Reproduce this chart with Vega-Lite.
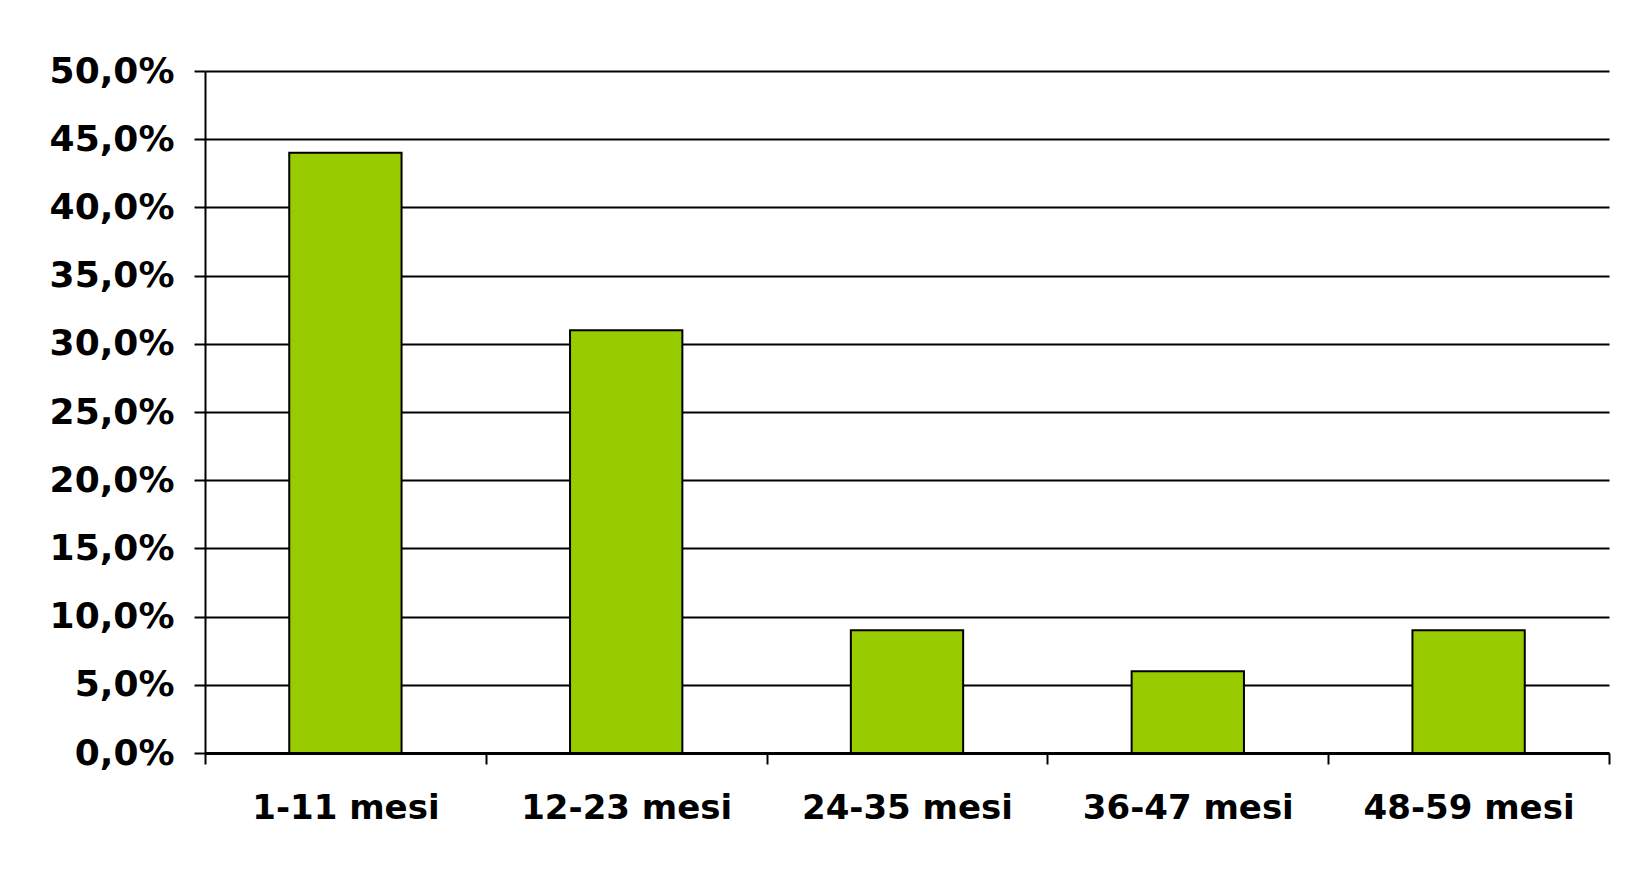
{
  "$schema": "https://vega.github.io/schema/vega-lite/v6.json",
  "autosize": {"type": "none"},
  "width": 1404,
  "height": 682,
  "padding": {"left": 205, "top": 71, "right": 37, "bottom": 118},
  "background": "white",
  "config": {
    "view": {"stroke": null},
    "font": "DejaVu Sans"
  },
  "data": {
    "values": [
      {"eta": "1-11 mesi", "pct": 44},
      {"eta": "12-23 mesi", "pct": 31},
      {"eta": "24-35 mesi", "pct": 9},
      {"eta": "36-47 mesi", "pct": 6},
      {"eta": "48-59 mesi", "pct": 9}
    ]
  },
  "mark": {"type": "bar", "width": {"band": 0.4}, "fill": "#99CC00", "stroke": "black", "strokeWidth": 2},
  "encoding": {
    "x": {
      "field": "eta", "type": "nominal", "sort": null,
      "scale": {"paddingInner": 0, "paddingOuter": 0},
      "axis": {
        "title": null, "labelAngle": 0, "tickBand": "extent",
        "domainColor": "black", "domainWidth": 3, "tickColor": "black", "tickWidth": 2, "tickSize": 11,
        "labelFont": "DejaVu Sans", "labelFontSize": 34, "labelFontWeight": "bold", "labelColor": "black",
        "labelPadding": 27, "labelLimit": 0, "grid": false
      }
    },
    "y": {
      "field": "pct", "type": "quantitative",
      "scale": {"domain": [0, 50], "nice": false},
      "axis": {
        "title": null, "values": [0, 5, 10, 15, 20, 25, 30, 35, 40, 45, 50],
        "labelExpr": "replace(format(datum.value, '.1f'), '.', ',') + '%'",
        "domainColor": "black", "domainWidth": 2, "tickColor": "black", "tickWidth": 2, "tickSize": 11,
        "grid": true, "gridColor": "black", "gridWidth": 2, "gridOpacity": 1,
        "labelFont": "DejaVu Sans", "labelFontSize": 36, "labelFontWeight": "bold", "labelColor": "black",
        "labelPadding": 20, "labelLimit": 0
      }
    }
  }
}
